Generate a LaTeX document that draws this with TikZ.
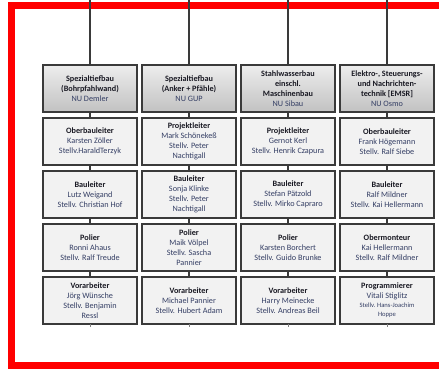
\documentclass[tikz,border=0pt]{standalone}
\usepackage{fontspec}
\setmainfont{Carlito}
\usetikzlibrary{positioning,shadows}

\definecolor{framered}{RGB}{255,0,0}
\definecolor{linegray}{RGB}{58,58,58}
\definecolor{namecol}{RGB}{52,62,100}
\definecolor{rolecol}{RGB}{25,25,35}
\definecolor{boxfill}{RGB}{242,242,242}

\newcommand{\Role}[1]{{\color{rolecol}\bfseries #1}}

\begin{document}
\begin{tikzpicture}[x=1pt,y=-1pt]
        \tikzset{
            OrgBox/.style = {
                draw = linegray,
                line width = 1.3pt,
                fill = boxfill,
                minimum width = 94pt,
                minimum height = 47pt,
                inner sep = 1pt,
                outer sep = 0pt,
                align = center,
                text = namecol,
                font = \fontsize{8.2}{10}\selectfont,
                drop shadow = {shadow xshift = 0.8pt, shadow yshift = -0.8pt,
                               fill = black!55, opacity = 0.6}},
            HeadBox/.style = {OrgBox,
                top color = black!7, bottom color = black!24},
            Link/.style = {draw = linegray, line width = 1.2pt}
                }
    \useasboundingbox (0,0) rectangle (439,369);
    \clip (0,0) rectangle (439,369);
    % red frame
    \draw[framered, line width = 7pt] (450,5.7) -- (11,5.7) -- (11,365.8) -- (450,365.8);
    % headers
    \node[HeadBox] (A1) at (90,88.5)
        {\Role{Spezialtiefbau}\\\Role{(Bohrpfahlwand)}\\NU Demler};
    \node[HeadBox, right = 5pt of A1] (A2)
        {\Role{Spezialtiefbau}\\\Role{(Anker + Pfähle)}\\NU GUP};
    \node[HeadBox, right = 5pt of A2] (A3)
        {\Role{Stahlwasserbau}\\\Role{einschl.}\\\Role{Maschinenbau}\\NU Sibau};
    \node[HeadBox, right = 5pt of A3] (A4)
        {\Role{Elektro-, Steuerungs-}\\\Role{und Nachrichten-}\\\Role{technik [EMSR]}\\NU Osmo};
    % second row
    \node[OrgBox, below = 6pt of A1] (B1)
        {\Role{Oberbauleiter}\\Karsten Zöller\\Stellv.HaraldTerzyk};
    \node[OrgBox, below = 6pt of A2] (B2)
        {\Role{Projektleiter}\\Mark Schönekeß\\Stellv. Peter\\Nachtigall};
    \node[OrgBox, below = 6pt of A3] (B3)
        {\Role{Projektleiter}\\Gernot Kerl\\Stellv. Henrik Czapura};
    \node[OrgBox, below = 6pt of A4] (B4)
        {\Role{Oberbauleiter}\\Frank Högemann\\Stellv. Ralf Siebe};
    % third row
    \node[OrgBox, below = 6pt of B1] (C1)
        {\Role{Bauleiter}\\Lutz Weigand\\Stellv. Christian Hof};
    \node[OrgBox, below = 6pt of B2] (C2)
        {\Role{Bauleiter}\\Sonja Klinke\\Stellv. Peter\\Nachtigall};
    \node[OrgBox, below = 6pt of B3] (C3)
        {\Role{Bauleiter}\\Stefan Pätzold\\Stellv. Mirko Capraro};
    \node[OrgBox, below = 6pt of B4] (C4)
        {\Role{Bauleiter}\\Ralf Mildner\\Stellv. Kai Hellermann};
    % fourth row
    \node[OrgBox, below = 6pt of C1] (D1)
        {\Role{Polier}\\Ronni Ahaus\\Stellv. Ralf Treude};
    \node[OrgBox, below = 6pt of C2] (D2)
        {\Role{Polier}\\Maik Völpel\\Stellv. Sascha\\Pannier};
    \node[OrgBox, below = 6pt of C3] (D3)
        {\Role{Polier}\\Karsten Borchert\\Stellv. Guido Brunke};
    \node[OrgBox, below = 6pt of C4] (D4)
        {\Role{Obermonteur}\\Kai Hellermann\\Stellv. Ralf Mildner};
    % fifth row
    \node[OrgBox, below = 6pt of D1] (E1)
        {\Role{Vorarbeiter}\\Jörg Wünsche\\Stellv. Benjamin\\Ressl};
    \node[OrgBox, below = 6pt of D2] (E2)
        {\Role{Vorarbeiter}\\Michael Pannier\\Stellv. Hubert Adam};
    \node[OrgBox, below = 6pt of D3] (E3)
        {\Role{Vorarbeiter}\\Harry Meinecke\\Stellv. Andreas Beil};
    \node[OrgBox, below = 6pt of D4] (E4)
        {\Role{Programmierer}\\Vitali Stiglitz\\[-1pt]
         {\fontsize{6.6}{9}\selectfont Stellv. Hans-Joachim}\\[-1pt]
         {\fontsize{6.6}{9}\selectfont Hoppe}};
    % connectors
    \foreach \c in {1,...,4} {
        \coordinate (T\c) at (A\c.north |- 0,0);
        \coordinate[below = 2.5pt of E\c.south] (S\c);
        \draw[Link] (T\c) -- (A\c);
        \draw[Link, line width = 0.8pt, black!50] (E\c) -- (S\c);
        }
    \foreach \up/\dn in {A/B,B/C,C/D,D/E}
        \foreach \c in {1,...,4}
            \draw[Link] (\up\c) -- (\dn\c);
    \end{tikzpicture}
\end{document}
